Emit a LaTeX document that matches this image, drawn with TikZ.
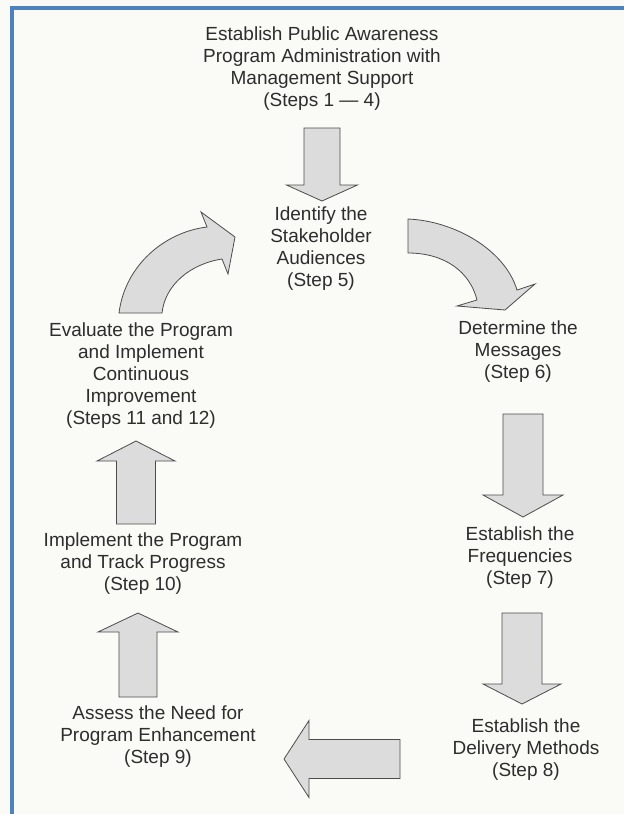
\documentclass[tikz,border=0pt]{standalone}
\usepackage{fontspec}
\setmainfont{Liberation Sans}
\definecolor{frameblue}{RGB}{79,129,189}
\definecolor{paper}{RGB}{250,250,246}
\definecolor{ink}{RGB}{45,45,45}
\definecolor{arrowgray}{RGB}{220,220,220}

\begin{document}
\begin{tikzpicture}[x=1pt,y=-1pt,
  stage/.style={align=center,text=ink,font=\fontsize{19}{22}\selectfont},
  blk/.style={draw=ink!85,fill=arrowgray,line width=0.8pt,line join=miter}]
\fill[paper] (0,0) rectangle (624,814);
\useasboundingbox (0,0) rectangle (624,814);
\draw[frameblue,line width=4pt] (12,814) -- (12,8) -- (624,8);

\node[stage] (admin) at (322,68.5) {Establish Public Awareness\\Program Administration with\\Management Support\\(Steps 1 — 4)};
\node[stage] (audiences) at (321,249) {Identify the\\Stakeholder\\Audiences\\(Step 5)};
\node[stage] (messages) at (518,352) {Determine the\\Messages\\(Step 6)};
\node[stage] (frequencies) at (520,558) {Establish the\\Frequencies\\(Step 7)};
\node[stage] (delivery) at (526,750) {Establish the\\Delivery Methods\\(Step 8)};
\node[stage] (enhancement) at (158,737) {Assess the Need for\\Program Enhancement\\(Step 9)};
\node[stage] (progress) at (143,564) {Implement the Program\\and Track Progress\\(Step 10)};
\node[stage] (evaluate) at (141,376) {Evaluate the Program\\and Implement\\Continuous\\Improvement\\(Steps 11 and 12)};

\foreach \tx/\ty/\a/\L/\h/\s/\W in {322/201/-90/73/16/18/35.5, 523/517/-90/103/22/20/40,
    522/704/-90/91/20/20/39, 284/759/180/116/25/19.5/38.5,
    138/613/90/84/19/19/40, 136/441/90/83/20/19.5/39} {
  \begin{scope}[shift={(\tx,\ty)},rotate=\a]
    \draw[blk] (0,0) -- (-\h,\W) -- (-\h,\s) -- (-\L,\s) -- (-\L,-\s)
      -- (-\h,-\s) -- (-\h,-\W) -- cycle;
  \end{scope}
}

\draw[blk] (119,313) .. controls (125,265) and (165,232) .. (207,227)
  -- (201,212) -- (235,237) -- (228,274) -- (222,259)
  .. controls (190,264) and (165,285) .. (162,313) -- cycle;
\draw[blk] (408,219) .. controls (455,221) and (505,250) .. (517,290)
  -- (535,284) -- (505,310) -- (457,306) -- (477,300)
  .. controls (470,272) and (445,253) .. (408,253) -- cycle;
\end{tikzpicture}
\end{document}
